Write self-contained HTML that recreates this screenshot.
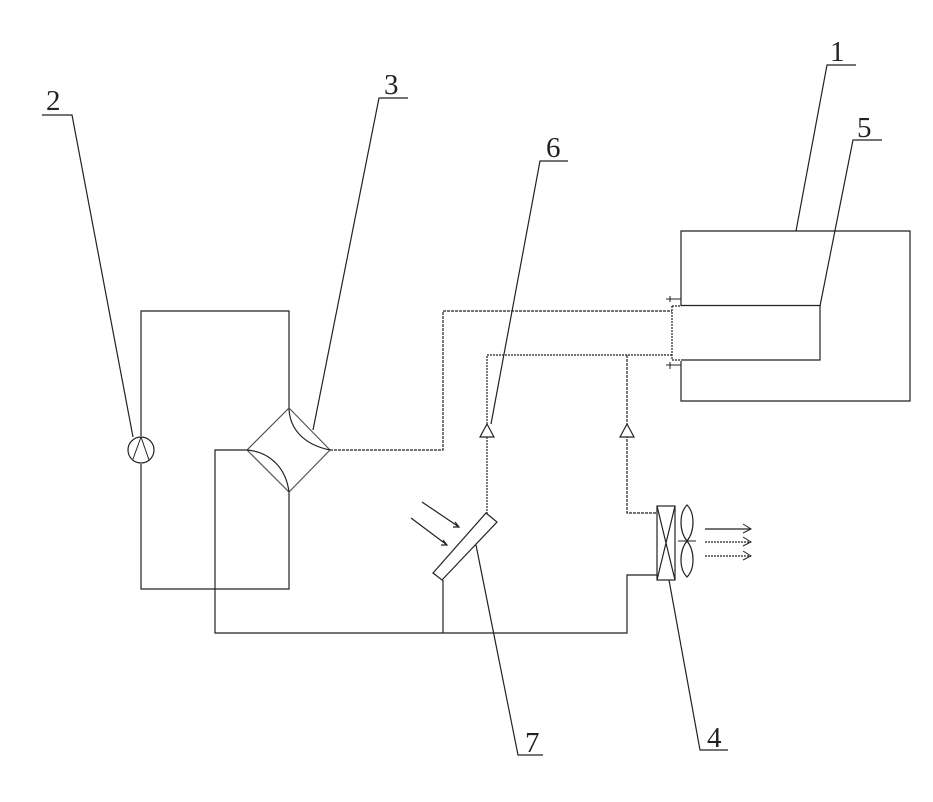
<!DOCTYPE html>
<html>
<head>
<meta charset="utf-8">
<style>
html,body{margin:0;padding:0;background:#fff;width:933px;height:802px;overflow:hidden}
svg{display:block}
text{font-family:"Liberation Serif",serif;font-size:29px;fill:#222}
</style>
</head>
<body>
<svg width="933" height="802" viewBox="0 0 933 802" fill="none" stroke="#222" stroke-width="1.2">
<!-- box 1 -->
<path d="M681 306V231H910V401H681V361"/>
<!-- box 5 -->
<path d="M681 305.500H820V360H681"/>
<path d="M672 306V360M672 306H681M672 360H681" stroke-dasharray="2 1"/>
<path d="M666 299H681M666 365H681M670 296V302M670 362V369" stroke-width="1"/>
<!-- left loop -->
<path d="M141 436V311H289V409"/>
<path d="M141 464V589H289V491"/>
<path d="M247 450H215V633H627V575H657"/>
<!-- 4-way valve -->
<path d="M289 408L330 450L289 492L247 450Z" stroke="#555"/>
<path d="M289 409C290 430 305 445 330 450"/>
<path d="M247 450C270 452 286 468 289 492"/>
<!-- upper pipes -->
<path d="M330 450H443V311H672" stroke-dasharray="3 1"/>
<path d="M672 355H487V514" stroke-dasharray="2 1"/>
<path d="M627 355V513H657" stroke-dasharray="3 1"/>
<!-- compressor -->
<circle cx="141" cy="450" r="13" fill="#fff"/>
<path d="M141 437L133 459M141 437L149 460" stroke-width="1"/>
<!-- check valves -->
<path d="M487 424L480 437H494Z" fill="#fff"/>
<path d="M627 424L620 437H634Z" fill="#fff"/>
<!-- panel 7 -->
<path d="M433 573L486 513L497 522L442 580Z" fill="#fff"/>
<path d="M443 580V633"/>
<path d="M422 502L459 527M455 522L459 527L453 527"/>
<path d="M411 518L447 545M443 540L447 545L441 545"/>
<!-- fan coil 4 -->
<rect x="657" y="506" width="18" height="74" fill="#fff"/>
<path d="M657 506L675 580M675 506L657 580"/>
<path d="M687 505C679 513 679 531 687 541C695 531 695 513 687 505Z"/>
<path d="M687 541C679 551 679 569 687 577C695 569 695 551 687 541Z"/>
<path d="M678 541H696" stroke-width="1"/>
<path d="M705 529H751"/>
<path d="M705 542H751M705 556H751" stroke-dasharray="2 1"/>
<path d="M743 524L751 529L743 533M743 537L751 542L743 546M743 551L751 556L743 560" stroke-width="1"/>
<!-- leaders -->
<path d="M42 115H72L133 437"/>
<path d="M408 98H379L313 430"/>
<path d="M568 161H540L491 424"/>
<path d="M856 65H827L796 231"/>
<path d="M882 140H853L820 306"/>
<path d="M476 545L518 755H543"/>
<path d="M669 580L700 750H728"/>
<g stroke="none">
<text x="46" y="110">2</text>
<text x="384" y="94">3</text>
<text x="546" y="157">6</text>
<text x="830" y="61">1</text>
<text x="857" y="137">5</text>
<text x="525" y="752">7</text>
<text x="707" y="747">4</text>
</g>
</svg>
</body>
</html>
